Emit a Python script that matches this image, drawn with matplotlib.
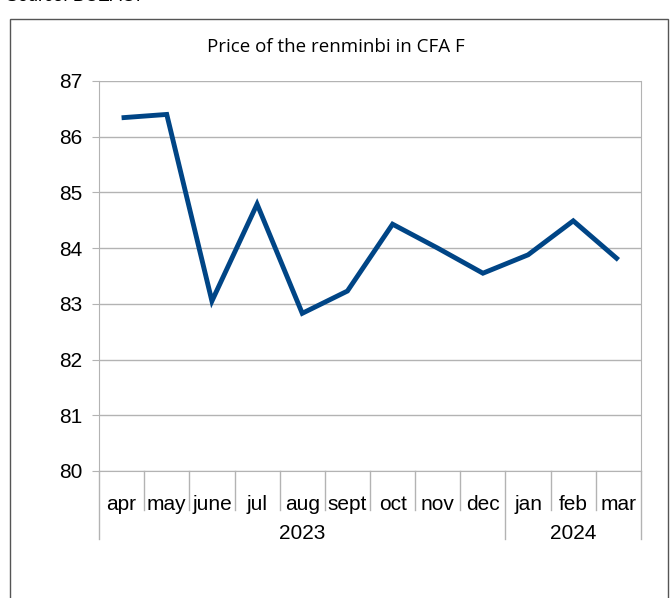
import matplotlib
matplotlib.use("Agg")
import matplotlib.pyplot as plt
import matplotlib.patches as mpatches
import matplotlib.transforms as mtransforms

plt.rcParams["font.family"] = ["Liberation Sans", "DejaVu Sans"]

months = ["apr", "may", "june", "jul", "aug", "sept", "oct", "nov", "dec", "jan", "feb", "mar"]
years = ["2023", "2024"]
year_months = [9, 3]  # months in each year group
price = [86.34, 86.40, 83.05, 84.79, 82.83, 83.23, 84.43, 84.00, 83.55, 83.88, 84.49, 83.79]

W, H = 671, 598
fig = plt.figure(figsize=(W / 100, H / 100), dpi=100)

# outer frame around the chart
frame = mpatches.Rectangle((10 / W, -0.05), 658 / W, 1.05 - 19 / H, transform=fig.transFigure,
                           fill=False, edgecolor="#555555", linewidth=1.0)
fig.patches.append(frame)
fig.text(6 / W, 1 + 3 / H, "Source: BCEAO.", fontsize=13, ha="left", va="center", color="black")

ax = fig.add_axes([99 / W, 1 - 471 / H, 542 / W, 390 / H])
x = list(range(len(months)))
ax.plot(x, price, color="#004586", linewidth=3.5, solid_joinstyle="miter", solid_capstyle="butt")

ax.set_xlim(-0.5, len(months) - 0.5)
ax.set_ylim(80, 87)
ax.set_yticks(range(80, 88))
ax.tick_params(axis="y", labelsize=15, length=5, color="#b3b3b3", pad=7)
ax.set_xticks([])
ax.grid(axis="y", color="#b3b3b3", linewidth=1)
ax.set_axisbelow(True)
ax.spines["top"].set_visible(False)
for s in ["left", "right", "bottom"]:
    ax.spines[s].set_color("#b3b3b3")

fig.text(336 / W, 1 - 47 / H, "Price of the renminbi in CFA F", fontsize=13.5,
         ha="center", va="center", family=["Open Sans", "DejaVu Sans"])

trans = mtransforms.blended_transform_factory(ax.transData, ax.transAxes)
group_edges = [-0.5]
for n in year_months:
    group_edges.append(group_edges[-1] + n)
for i in range(len(months) + 1):
    b = i - 0.5
    bottom = -0.175 if b in group_edges else -0.10
    ax.plot([b, b], [0, bottom], transform=trans, color="#b3b3b3", linewidth=1, clip_on=False)
for i, m in enumerate(months):
    ax.text(i, -0.087, m, transform=trans, ha="center", va="center", fontsize=15)
for j, yr in enumerate(years):
    mid = (group_edges[j] + group_edges[j + 1]) / 2
    ax.text(mid, -0.16, yr, transform=trans, ha="center", va="center", fontsize=15)

fig.savefig("out.png", dpi=100)
